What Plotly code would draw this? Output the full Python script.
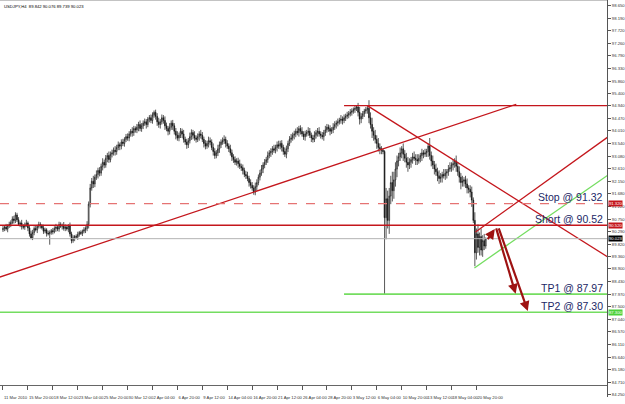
import plotly.graph_objects as go

# ---------------- data ----------------
closes = [
    90.40, 90.45, 90.38, 90.50, 90.55, 90.62, 90.75, 90.70, 90.90, 90.72,
    90.55, 90.60, 90.48, 90.45, 90.52, 90.60, 90.42, 90.20, 90.05, 90.25,
    90.40, 90.35, 90.48, 90.55, 90.50, 90.42, 90.30, 90.35, 90.22, 90.20,
    90.25, 90.32, 90.28, 90.40, 90.45, 90.38, 90.55, 90.48, 90.52, 90.40,
    90.45, 90.38, 90.50, 90.20, 89.95, 90.05, 90.10, 90.08, 90.18, 90.25,
    90.22, 90.30, 90.35, 90.40, 90.55, 91.30, 91.90, 92.15, 92.05, 92.30,
    92.40, 92.55, 92.45, 92.70, 92.85, 92.75, 93.00, 93.10, 92.95, 93.15,
    93.20, 93.30, 93.25, 93.40, 93.50, 93.45, 93.60, 93.55, 93.70, 93.80,
    93.75, 93.90, 94.00, 93.95, 94.10, 94.05, 94.15, 94.25, 94.10, 94.20,
    94.30, 94.35, 94.25, 94.45, 94.50, 94.40, 94.60, 94.70, 94.55, 94.35,
    94.25, 94.35, 94.50, 94.40, 94.20, 94.10, 94.00, 94.15, 94.30, 94.20,
    94.00, 93.85, 93.75, 93.85, 94.00, 93.90, 93.70, 93.60, 93.50, 93.65,
    93.80, 93.95, 93.85, 93.75, 93.70, 93.80, 93.90, 93.85, 93.70, 93.55,
    93.45, 93.55, 93.65, 93.60, 93.40, 93.25, 93.10, 93.20, 93.35, 93.50,
    93.60, 93.65, 93.70, 93.55, 93.45, 93.35, 93.20, 93.05, 92.95, 92.85,
    92.90, 92.80, 92.70, 92.65, 92.55, 92.40, 92.35, 92.25, 92.10, 92.00,
    91.90, 91.75, 91.95, 92.10, 92.30, 92.45, 92.60, 92.75, 92.85, 92.95,
    93.10, 93.20, 93.25, 93.35, 93.30, 93.40, 93.50, 93.45, 93.55, 93.40,
    93.25, 93.15, 93.35, 93.55, 93.70, 93.75, 93.85, 93.90, 94.00, 93.95,
    94.10, 94.00, 93.90, 93.80, 93.90, 93.95, 94.00, 93.85, 93.75, 93.70,
    93.85, 93.95, 94.00, 93.90, 93.85, 93.80, 93.95, 94.05, 94.15, 94.10,
    94.00, 94.05, 94.15, 94.25, 94.30, 94.35, 94.40, 94.45, 94.40, 94.50,
    94.55, 94.60, 94.65, 94.70, 94.75, 94.80, 94.85, 94.90, 94.70, 94.45,
    94.55, 94.65, 94.75, 94.80, 94.85, 94.50, 94.25, 94.00, 93.85, 93.70,
    93.55, 93.40, 93.35, 93.30, 93.25, 90.80, 91.50, 90.70, 91.60, 92.10,
    91.80, 92.20, 92.60, 92.90, 93.05, 93.20, 93.35, 93.15, 93.00, 92.85,
    92.75, 92.85, 92.95, 93.05, 93.00, 92.95, 92.90, 93.00, 93.10, 93.20,
    93.15, 93.20, 93.25, 93.45, 93.10, 92.90, 92.75, 92.60, 92.50, 92.35,
    92.25, 92.30, 92.40, 92.35, 92.45, 92.50, 92.60, 92.65, 92.75, 92.80,
    92.90, 92.70, 92.50, 92.30, 92.10, 92.15, 92.20, 92.05, 91.90, 91.85,
    91.75, 91.45, 90.70, 89.50, 90.20, 89.70, 90.10, 89.60, 89.95, 89.75, 90.02,
]
first_open = 90.35

wick_up = [
    .10, .08, .12, .06, .10, .08, .10, .12, .10, .08,
    .10, .06, .12, .08, .10, .12, .06, .08, .12, .10,
    .08, .12, .06, .10, .08, .06, .12, .08, .06, .10,
    .08, .06, .10, .08, .12, .06, .10, .08, .06, .12,
    .10, .08, .06, .12, .08, .10, .06, .08, .10, .06,
    .08, .06, .10, .08, .12, .10, .15, .12, .20, .10,
    .15, .10, .12, .10, .15, .10, .12, .10, .15, .10,
    .12, .10, .15, .10, .12, .08, .10, .12, .08, .10,
    .12, .10, .08, .15, .10, .08, .12, .10, .15, .10,
    .10, .12, .10, .08, .10, .12, .10, .07, .10, .12,
    .15, .10, .12, .10, .15, .12, .10, .15, .10, .12,
    .10, .12, .15, .10, .12, .10, .15, .10, .12, .10,
    .15, .12, .10, .15, .10, .12, .10, .15, .12, .10,
    .12, .10, .15, .12, .10, .15, .12, .10, .15, .12,
    .10, .12, .15, .10, .12, .10, .15, .12, .10, .12,
    .10, .12, .15, .10, .12, .10, .12, .15, .10, .12,
    .12, .10, .15, .12, .10, .12, .15, .10, .12, .10,
    .15, .10, .12, .10, .15, .10, .12, .15, .10, .12,
    .10, .15, .12, .10, .12, .15, .10, .12, .10, .15,
    .10, .12, .15, .10, .12, .10, .15, .12, .10, .12,
    .15, .10, .12, .15, .10, .12, .10, .15, .12, .10,
    .12, .10, .15, .12, .10, .12, .10, .15, .10, .12,
    .10, .12, .10, .12, .10, .08, .10, .07, .15, .20,
    .12, .10, .08, .10, .10, .30, .20, .25, .15, .20,
    .15, .20, .15, .10, .05, .05, .40, .30, .30, .25,
    .40, .30, .25, .20, .15, .20, .10, .20, .15, .20,
    .20, .15, .10, .15, .20, .15, .20, .15, .10, .15,
    .10, .15, .10, .10, .30, .15, .20, .15, .20, .15,
    .20, .15, .10, .20, .15, .10, .15, .20, .10, .15,
    .10, .20, .15, .20, .15, .20, .10, .15, .20, .10,
    .15, .20, .10, .30, .20, .35, .15, .30, .20, .25, .05,
]

wick_dn = [
    .08, .10, .06, .12, .08, .10, .06, .12, .10, .08,
    .06, .10, .12, .08, .10, .06, .12, .10, .05, .08,
    .10, .06, .12, .08, .10, .06, .10, .08, .12, .06,
    .40, .08, .10, .06, .12, .08, .10, .06, .12, .08,
    .10, .06, .12, .10, .10, .08, .12, .06, .10, .08,
    .06, .10, .08, .12, .10, .15, .12, .10, .15, .12,
    .10, .15, .12, .10, .15, .12, .10, .15, .12, .10,
    .12, .10, .15, .12, .10, .15, .12, .10, .12, .10,
    .10, .12, .10, .15, .12, .10, .12, .15, .10, .12,
    .12, .10, .15, .10, .12, .10, .12, .10, .12, .15,
    .12, .15, .10, .12, .15, .10, .15, .12, .10, .15,
    .12, .15, .10, .12, .10, .15, .12, .10, .15, .12,
    .10, .12, .15, .10, .12, .10, .15, .12, .10, .15,
    .12, .10, .15, .12, .10, .15, .12, .10, .12, .15,
    .12, .10, .12, .15, .10, .12, .10, .15, .12, .10,
    .12, .15, .10, .12, .15, .10, .12, .10, .15, .12,
    .10, .10, .12, .15, .10, .12, .10, .15, .12, .10,
    .12, .10, .15, .12, .10, .12, .15, .10, .12, .15,
    .12, .10, .15, .12, .10, .12, .10, .15, .12, .10,
    .15, .12, .10, .12, .15, .10, .12, .10, .15, .12,
    .10, .12, .15, .10, .12, .10, .15, .12, .10, .12,
    .15, .10, .12, .10, .15, .12, .10, .12, .15, .10,
    .12, .10, .12, .10, .12, .10, .12, .10, .15, .20,
    .15, .10, .12, .10, .15, .20, .15, .25, .20, .15,
    .20, .15, .20, .15, .10, 2.85, .80, .30, .50, .30,
    .40, .30, .25, .30, .20, .15, .20, .25, .15, .20,
    .25, .15, .20, .15, .10, .20, .15, .10, .15, .20,
    .15, .10, .15, .20, .15, .20, .15, .20, .15, .20,
    .20, .15, .20, .10, .15, .20, .15, .10, .15, .20,
    .15, .20, .15, .20, .25, .15, .20, .15, .20, .15,
    .20, .25, .10, .50, .25, .20, .30, .20, .25, .15, .10,
]

tick_bars = [0, 16, 32, 48, 64, 80, 96, 112, 128, 144,
             160, 176, 192, 208, 224, 240, 256, 272, 288, 304]
tick_text = ["11 Mar 2010", "15 Mar 20:00", "18 Mar 12:00", "23 Mar 04:00",
             "25 Mar 20:00", "30 Mar 12:00", "2 Apr 04:00", "6 Apr 20:00",
             "9 Apr 12:00", "14 Apr 04:00", "16 Apr 20:00", "21 Apr 12:00",
             "26 Apr 04:00", "28 Apr 20:00", "3 May 12:00", "6 May 04:00",
             "10 May 20:00", "13 May 12:00", "18 May 04:00", "20 May 20:00"]

price_ticks = [98.650, 98.190, 97.720, 97.260, 96.790, 96.330, 95.860, 95.400,
               94.940, 94.470, 94.010, 93.540, 93.080, 92.610, 92.150, 91.680,
               91.220, 90.750, 90.290, 89.820, 89.360, 88.900, 88.430, 87.970,
               87.500, 87.040, 86.570, 86.110, 85.640, 85.180, 84.710, 84.250]

title_text = "USDJPY,H4  89.842 90.076 89.739 90.023"

stop_price = 91.32
short_price = 90.52
tp1_price = 87.97
tp2_price = 87.30
last_price = 90.023
resistance_price = 94.95

level_labels = ["Stop @ 91.32", "Short @ 90.52", "TP1 @ 87.97", "TP2 @ 87.30"]
level_prices = [stop_price, short_price, tp1_price, tp2_price]

rise_line_x = [-2.0, 329.6]
rise_line_y = [88.60, 95.00]
desc_line_x = [234.2, 388.5]
desc_line_y = [94.94, 89.34]
chan_red_x = [303.4, 388.5]
chan_red_y = [90.27, 93.79]
chan_green_x = [302.7, 388.5]
chan_green_y = [88.94, 92.38]
resist_x = [219.0, 390.0]
tp1_x = [219.0, 390.0]

arrow_tail_x = [310.6, 316.4, 318.0]
arrow_tail_y = [89.95, 90.46, 90.46]
arrow_head_x = [315.8, 329.2, 337.0]
arrow_head_y = [90.38, 87.98, 87.34]

# ---------------- build ----------------
bars = list(range(len(closes)))
opens = [first_open] + closes[:-1]
highs = [max(o, c) + w for o, c, w in zip(opens, closes, wick_up)]
lows = [min(o, c) - w for o, c, w in zip(opens, closes, wick_dn)]

RED = "#c4161c"
GREEN = "#74dd60"
TXT = "#1c2766"
SMALL = dict(family="Arial, Liberation Sans", size=4.2, color="#333")

fig = go.Figure()

fig.add_trace(go.Candlestick(
    x=bars, open=opens, high=highs, low=lows, close=closes,
    increasing=dict(line=dict(color="#111111", width=0.7), fillcolor="white"),
    decreasing=dict(line=dict(color="#111111", width=0.7), fillcolor="#111111"),
    whiskerwidth=0, showlegend=False, hoverinfo="skip",
))

def seg(xs, ys, color, width=1.3, dash="solid"):
    fig.add_trace(go.Scatter(x=xs, y=ys, mode="lines",
                             line=dict(color=color, width=width, dash=dash),
                             showlegend=False, hoverinfo="skip"))

seg(rise_line_x, rise_line_y, RED)
seg(desc_line_x, desc_line_y, RED)
seg(chan_red_x, chan_red_y, RED)
seg(chan_green_x, chan_green_y, GREEN)
seg(resist_x, [resistance_price, resistance_price], RED)
seg(tp1_x, [tp1_price, tp1_price], GREEN, 1.6)

shapes = [
    dict(type="line", xref="paper", x0=0, x1=1, yref="y", y0=stop_price, y1=stop_price,
         line=dict(color="#e57373", width=1.2, dash="dash")),
    dict(type="line", xref="paper", x0=0, x1=1, yref="y", y0=short_price, y1=short_price,
         line=dict(color=RED, width=1.6)),
    dict(type="line", xref="paper", x0=0, x1=1, yref="y", y0=last_price, y1=last_price,
         line=dict(color="#b4b4b4", width=1)),
    dict(type="line", xref="paper", x0=0, x1=1, yref="y", y0=tp2_price, y1=tp2_price,
         line=dict(color=GREEN, width=1.6)),
    dict(type="line", xref="paper", x0=0, x1=1, yref="paper", y0=1, y1=1,
         line=dict(color="#888888", width=1)),
]

annotations = []
for txt, p in zip(level_labels, level_prices):
    annotations.append(dict(x=384.6, y=p, xref="x", yref="y", text=txt, showarrow=False,
                            xanchor="right", yanchor="bottom", yshift=-1.5, xshift=3,
                            font=dict(family="Arial, Liberation Sans", size=10.5, color=TXT)))

for tx, ty, hx, hy in zip(arrow_tail_x, arrow_tail_y, arrow_head_x, arrow_head_y):
    annotations.append(dict(x=hx, y=hy, ax=tx, ay=ty, xref="x", yref="y", axref="x", ayref="y",
                            text="", showarrow=True, arrowhead=2, arrowsize=0.9,
                            arrowwidth=2.2, arrowcolor="#9e1212"))

box_specs = [(stop_price, "91.320", RED), (short_price, "90.520", RED),
             (last_price, "90.023", "black"), (tp2_price, "87.300", "#4cd13a")]
for p, t, col in box_specs:
    annotations.append(dict(x=1, y=p, xref="paper", yref="y", text=t, showarrow=False,
                            xanchor="left", xshift=1, bgcolor=col, borderpad=0,
                            font=dict(family="Arial, Liberation Sans", size=4.2, color="white")))

annotations.append(dict(x=0.003, y=0.995, xref="paper", yref="paper", text=title_text,
                        showarrow=False, xanchor="left", yanchor="top",
                        font=dict(family="Arial, Liberation Sans", size=4.2, color="black")))

fig.update_layout(
    width=625, height=404,
    margin=dict(l=0, r=16, t=0, b=7),
    paper_bgcolor="white", plot_bgcolor="white",
    shapes=shapes, annotations=annotations,
    xaxis=dict(range=[-1.92, 387.84], tickvals=tick_bars, ticktext=tick_text,
               tickangle=0, tickfont=SMALL,
               ticks="outside", ticklen=4, tickcolor="#555",
               ticklabelposition="outside right", ticklabelstandoff=8,
               showgrid=False, zeroline=False, showline=True, linecolor="#666",
               anchor="free", position=0.03, rangeslider=dict(visible=False)),
    yaxis=dict(side="right", range=[84.16, 98.86], tickvals=price_ticks,
               ticktext=["%.3f" % v for v in price_ticks], tickfont=SMALL,
               ticks="outside", ticklen=3, tickcolor="#555",
               showgrid=False, zeroline=False, showline=True, linecolor="#555"),
)

fig.write_html("out.html")
